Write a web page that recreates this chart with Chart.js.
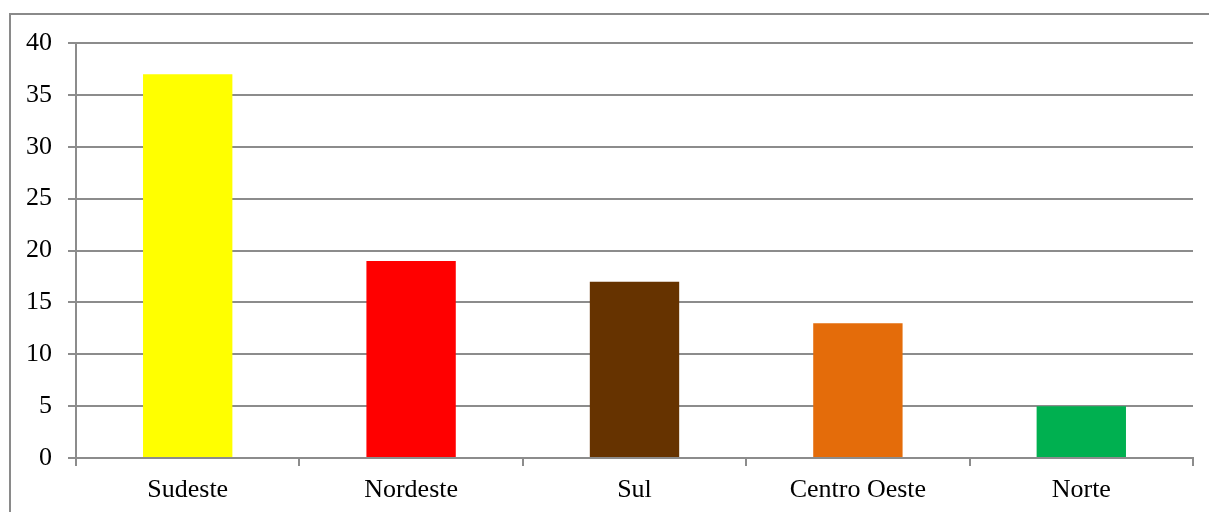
<!DOCTYPE html>
<html>
<head>
<meta charset="utf-8">
<script src="https://cdn.jsdelivr.net/npm/chart.js@4"></script>
<style>
  html, body { margin: 0; padding: 0; background: #fff; }
  #wrap { position: relative; width: 1209px; height: 512px; overflow: hidden; }
  #frame { position: absolute; left: 9px; top: 13px; width: 1300px; height: 600px; border-left: 2px solid #8a8a8a; border-top: 2px solid #8a8a8a; box-sizing: border-box; }
  canvas { position: absolute; left: 0; top: 0; }
</style>
</head>
<body>
<div id="wrap">
  <div id="frame"></div>
  <canvas id="c" width="1209" height="512"></canvas>
</div>
<script>
const categories = ["Sudeste", "Nordeste", "Sul", "Centro Oeste", "Norte"];
const values = [37, 19, 17, 13, 5];
const barColors = ["#FFFF00", "#FF0000", "#663300", "#E46C0A", "#00B050"];
const yTicks = [0, 5, 10, 15, 20, 25, 30, 35, 40];

const gridColor = "#8c8c8c";
const font = { family: "'Liberation Serif', 'Times New Roman', serif", size: 26 };

new Chart(document.getElementById("c"), {
  type: "bar",
  data: {
    labels: categories,
    datasets: [{
      data: values,
      backgroundColor: barColors,
      borderWidth: 0,
      barPercentage: 0.4,
      categoryPercentage: 1.0
    }]
  },
  options: {
    responsive: false,
    animation: false,
    devicePixelRatio: 1,
    layout: { padding: { left: 0, right: 16, top: 43, bottom: 0 } },
    plugins: { legend: { display: false }, tooltip: { enabled: false } },
    scales: {
      x: {
        offset: true,
        grid: { display: true, drawOnChartArea: false, drawTicks: true, tickLength: 8, color: gridColor, lineWidth: 2, offset: true },
        border: { display: true, color: gridColor, width: 2 },
        ticks: { color: "#000", font: font, padding: 9, maxRotation: 0 },
        afterFit: s => { s.height = 54; }
      },
      y: {
        min: 0, max: 40,
        afterBuildTicks: s => { s.ticks = yTicks.map(v => ({ value: v })); },
        grid: { color: gridColor, lineWidth: 2, tickLength: 8 },
        border: { display: true, color: gridColor, width: 2 },
        ticks: { color: "#000", font: font, padding: 16 },
        afterFit: s => { s.width = 76; }
      }
    }
  }
});
</script>
</body>
</html>
